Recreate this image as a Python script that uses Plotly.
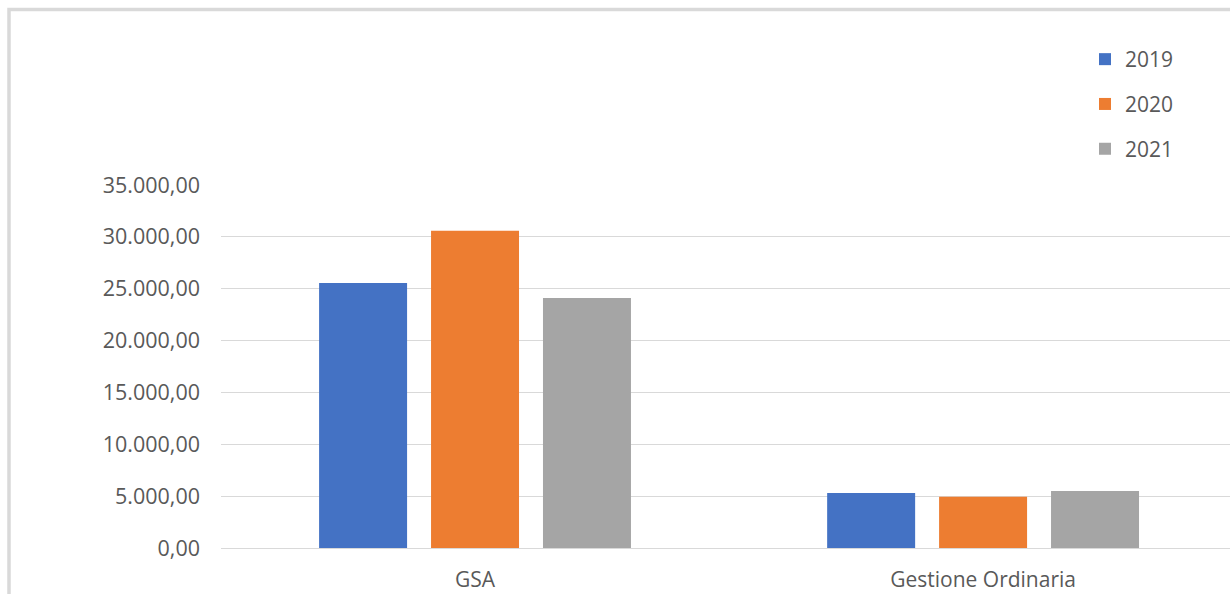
import plotly.graph_objects as go

categories = ["GSA", "Gestione Ordinaria"]
years = ["2019", "2020", "2021"]
values_2019 = [25550, 5300]
values_2020 = [30600, 4950]
values_2021 = [24100, 5500]
series = [values_2019, values_2020, values_2021]
colors = ["#4472C4", "#ED7D31", "#A5A5A5"]
y_ticks = [0, 5000, 10000, 15000, 20000, 25000, 30000, 35000]

W, H = 1230, 594
ML, MR, MT, MB = 221, 0, 185, 46
PW, PH = W - ML - MR, H - MT - MB

def px_x(p):
    return (p - ML) / PW

def px_y(p):
    return (H - MB - p) / PH

fig = go.Figure()
for yr, vals, col in zip(years, series, colors):
    fig.add_trace(go.Bar(
        x=categories, y=vals, name=yr, legendgroup=yr,
        marker=dict(color=col, line=dict(width=0)),
    ))

font_col = "#595959"
fig.update_layout(
    width=W, height=H,
    margin=dict(l=ML, r=MR, t=MT, b=MB),
    paper_bgcolor="white", plot_bgcolor="white",
    separators=",.",
    font=dict(family="Open Sans", size=21, color=font_col),
    barmode="group", bargap=0.339, bargroupgap=0.214,
    showlegend=True,
    legend=dict(
        x=px_x(1085), y=px_y(39), xanchor="left", yanchor="top",
        orientation="v", tracegroupgap=14.5,
        font=dict(family="Open Sans", size=21, color=font_col),
        bgcolor="rgba(0,0,0,0)",
    ),
    xaxis=dict(
        type="category", range=[-0.5, 1.486],
        showgrid=False, showline=False, zeroline=False,
        ticks="", ticklabelstandoff=17,
        tickfont=dict(size=21, color=font_col),
    ),
    yaxis=dict(
        range=[0, 35000], tickvals=y_ticks, tickformat=",.2f",
        showgrid=True, gridcolor="#D9D9D9", gridwidth=1.3,
        zeroline=True, zerolinecolor="#D9D9D9", zerolinewidth=1.3,
        showline=False, ticks="", ticklabelstandoff=20,
        tickfont=dict(size=21.5, color=font_col),
    ),
    shapes=[
        dict(type="rect", xref="paper", yref="paper",
             x0=px_x(9), x1=px_x(1260), y0=px_y(9.5), y1=px_y(620),
             line=dict(color="#D9D9D9", width=3.5), fillcolor="rgba(0,0,0,0)",
             layer="below"),
    ],
)

fig.write_html("out.html")
